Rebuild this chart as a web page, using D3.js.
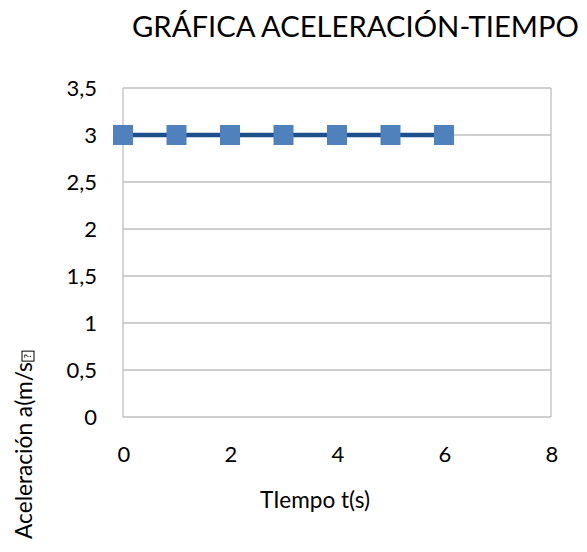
<!DOCTYPE html>
<html>
<head>
<meta charset="utf-8">
<script src="https://cdn.jsdelivr.net/npm/d3@7"></script>
<style>
  body { margin: 0; background: #fff; }
  text { font-family: Lato, "Open Sans", sans-serif; fill: #000; }
</style>
</head>
<body>
<script>
// data
const tiempo = [0, 1, 2, 3, 4, 5, 6];
const aceleracion = [3, 3, 3, 3, 3, 3, 3];
const xTicks = [0, 2, 4, 6, 8];
const yTicks = [0, 0.5, 1, 1.5, 2, 2.5, 3, 3.5];

const width = 587, height = 552;
const plotLeft = 123, plotRight = 551, plotTop = 88, plotBottom = 417;

const svg = d3.select("body").append("svg")
	.attr("width", width)
	.attr("height", height);

const x = d3.scaleLinear().domain([0, 8]).range([plotLeft, plotRight]);
const y = d3.scaleLinear().domain([0, 3.5]).range([plotBottom, plotTop]);

const fmt = d => String(d).replace(".", ",");

// shrink/grow a text's font so it spans the wanted width
function fitWidth(sel, target) {
	const n = sel.node();
	const fs = parseFloat(sel.style("font-size"));
	const w = n.getComputedTextLength();
	sel.style("font-size", (fs * target / w) + "px");
	return sel;
}

// horizontal gridlines
svg.selectAll(".grid")
	.data(yTicks)
	.enter().append("line")
	.attr("x1", plotLeft).attr("x2", plotRight)
	.attr("y1", d => y(d)).attr("y2", d => y(d))
	.attr("stroke", "#bfbfbf").attr("stroke-width", 1.3);

// plot frame sides
svg.append("line")
	.attr("x1", plotLeft).attr("x2", plotLeft).attr("y1", plotTop).attr("y2", plotBottom)
	.attr("stroke", "#bfbfbf").attr("stroke-width", 1.3);
svg.append("line")
	.attr("x1", plotRight).attr("x2", plotRight).attr("y1", plotTop).attr("y2", plotBottom)
	.attr("stroke", "#bfbfbf").attr("stroke-width", 1.3);

// y tick labels
svg.selectAll(".ylab")
	.data(yTicks)
	.enter().append("text")
	.attr("x", 97)
	.attr("y", d => y(d))
	.attr("dy", "0.36em")
	.attr("text-anchor", "end")
	.style("font-size", "22px")
	.text(fmt);

// x tick labels
svg.selectAll(".xlab")
	.data(xTicks)
	.enter().append("text")
	.attr("x", d => x(d) + 1)
	.attr("y", 462)
	.attr("text-anchor", "middle")
	.style("font-size", "22px")
	.text(fmt);

// series line
const line = d3.line()
	.x((d, i) => x(tiempo[i]))
	.y(d => y(d));

svg.append("path")
	.datum(aceleracion)
	.attr("d", line)
	.attr("fill", "none")
	.attr("stroke", "#1c4f8c")
	.attr("stroke-width", 4.5);

// markers
const ms = 20;
svg.selectAll(".marker")
	.data(aceleracion)
	.enter().append("rect")
	.attr("x", (d, i) => x(tiempo[i]) - ms / 2)
	.attr("y", d => y(d) - ms / 2)
	.attr("width", ms).attr("height", ms)
	.attr("fill", "#4f81bd");

// title
const title = svg.append("text")
	.attr("x", 132)
	.attr("y", 37)
	.style("font-size", "30px")
	.text("GRÁFICA ACELERACIÓN-TIEMPO");
fitWidth(title, 447);

// x axis title
const xt = svg.append("text")
	.attr("x", 315)
	.attr("y", 508)
	.attr("text-anchor", "middle")
	.style("font-size", "22px")
	.text("TIempo t(s)");
fitWidth(xt, 110);

// y axis title (rotated, ends with an unrenderable glyph box)
const yt = svg.append("g").attr("transform", "translate(32,539) rotate(-90)");
const ylab = yt.append("text")
	.attr("x", 0).attr("y", 0)
	.style("font-size", "22px")
	.text("Aceleración a(m/s");
fitWidth(ylab, 177);
const w = ylab.node().getComputedTextLength();
yt.append("rect")
	.attr("x", w + 1).attr("y", -10)
	.attr("width", 10).attr("height", 12)
	.attr("fill", "#fff").attr("stroke", "#000").attr("stroke-width", 1);
yt.append("text")
	.attr("x", w + 6).attr("y", -1)
	.attr("text-anchor", "middle")
	.style("font-size", "10px")
	.text("?");
</script>
</body>
</html>
